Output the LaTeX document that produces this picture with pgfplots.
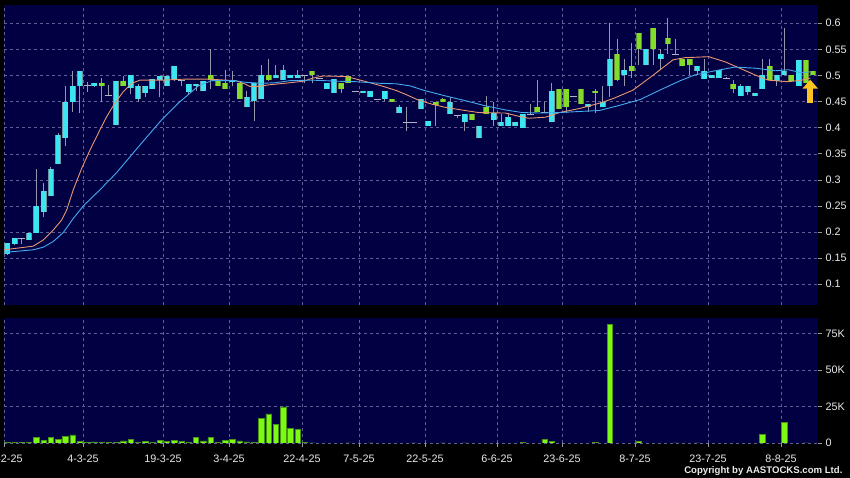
\documentclass[border=0pt]{standalone}
\usepackage{pgfplots}
\pgfplotsset{compat=1.18}
\usepackage{pgfplotstable}
\usepackage{fontspec}
\setmainfont{Liberation Sans}
\usetikzlibrary{arrows.meta}

\definecolor{bgnavy}{RGB}{0,0,66}
\definecolor{gridcol}{RGB}{95,95,150}
\definecolor{upcyan}{RGB}{60,230,240}
\definecolor{upedge}{RGB}{110,150,160}
\definecolor{dngreen}{RGB}{130,220,40}
\definecolor{dnedge}{RGB}{95,140,60}
\definecolor{wickcol}{RGB}{150,150,170}
\definecolor{dojicol}{RGB}{175,180,195}
\definecolor{maorange}{RGB}{235,150,110}
\definecolor{mablue}{RGB}{70,170,240}
\definecolor{volgreen}{RGB}{125,250,20}
\definecolor{voledge}{RGB}{70,150,20}
\definecolor{labcol}{RGB}{235,235,235}
\definecolor{arrowcol}{RGB}{255,195,30}

% daily candles: low, body low, body high, high; t: 0 cyan, 1 green, 2 doji
\pgfplotstableread{
i lo bl bh hi t
0 0.157 0.158 0.179 0.180 0
1 0.175 0.178 0.188 0.188 0
2 0.178 0.186 0.188 0.188 2
3 0.185 0.185 0.199 0.199 0
4 0.198 0.198 0.249 0.320 0
5 0.228 0.239 0.279 0.294 0
6 0.269 0.269 0.320 0.325 0
7 0.330 0.330 0.385 0.389 0
8 0.364 0.380 0.450 0.479 0
9 0.430 0.450 0.479 0.509 0
10 0.429 0.480 0.509 0.509 0
11 0.469 0.480 0.482 0.487 2
12 0.478 0.480 0.485 0.485 0
13 0.450 0.480 0.485 0.495 1
14 0.461 0.460 0.462 0.482 2
15 0.405 0.405 0.490 0.490 0
16 0.480 0.480 0.490 0.499 1
17 0.465 0.476 0.500 0.500 0
18 0.450 0.454 0.480 0.483 0
19 0.459 0.466 0.479 0.479 0
20 0.475 0.475 0.494 0.494 0
21 0.459 0.491 0.499 0.499 0
22 0.480 0.480 0.499 0.499 0
23 0.490 0.491 0.519 0.519 0
24 0.480 0.489 0.491 0.491 2
25 0.465 0.469 0.484 0.484 0
26 0.470 0.479 0.484 0.484 0
27 0.470 0.470 0.490 0.490 0
28 0.475 0.491 0.500 0.550 1
29 0.480 0.480 0.489 0.489 1
30 0.475 0.475 0.485 0.510 1
31 0.480 0.488 0.491 0.509 0
32 0.454 0.454 0.485 0.485 1
33 0.439 0.439 0.459 0.470 0
34 0.413 0.452 0.485 0.485 0
35 0.454 0.454 0.500 0.520 0
36 0.490 0.491 0.500 0.531 1
37 0.495 0.495 0.500 0.520 0
38 0.491 0.491 0.511 0.520 0
39 0.495 0.495 0.500 0.500 0
40 0.495 0.495 0.500 0.511 0
41 0.485 0.499 0.501 0.501 2
42 0.485 0.500 0.509 0.509 1
43 0.494 0.494 0.496 0.496 2
44 0.475 0.475 0.485 0.485 0
45 0.466 0.466 0.493 0.493 0
46 0.466 0.475 0.485 0.485 1
47 0.485 0.485 0.499 0.499 1
48 0.469 0.469 0.471 0.471 2
49 0.466 0.466 0.470 0.470 0
50 0.459 0.459 0.470 0.470 0
51 0.453 0.453 0.455 0.455 2
52 0.452 0.454 0.470 0.470 0
53 0.450 0.450 0.455 0.455 1
54 0.429 0.429 0.440 0.443 0
55 0.394 0.409 0.411 0.440 2
56 0.409 0.409 0.411 0.411 2
57 0.435 0.435 0.454 0.454 0
58 0.404 0.404 0.413 0.413 0
59 0.404 0.443 0.450 0.450 1
60 0.450 0.450 0.454 0.457 1
61 0.426 0.426 0.450 0.459 0
62 0.419 0.423 0.425 0.425 2
63 0.394 0.410 0.426 0.426 0
64 0.415 0.415 0.426 0.426 1
65 0.380 0.380 0.404 0.404 0
66 0.426 0.426 0.439 0.461 1
67 0.404 0.415 0.429 0.450 0
68 0.404 0.404 0.410 0.426 0
69 0.404 0.404 0.420 0.428 0
70 0.404 0.404 0.410 0.410 0
71 0.400 0.400 0.426 0.426 0
72 0.426 0.425 0.427 0.445 2
73 0.430 0.430 0.439 0.491 1
74 0.429 0.428 0.430 0.450 2
75 0.410 0.410 0.470 0.485 0
76 0.435 0.435 0.475 0.475 1
77 0.429 0.439 0.475 0.475 1
78 0.459 0.458 0.460 0.460 2
79 0.445 0.445 0.475 0.475 1
80 0.430 0.439 0.445 0.445 0
81 0.429 0.467 0.471 0.475 1
82 0.439 0.439 0.450 0.480 0
83 0.459 0.480 0.531 0.600 0
84 0.490 0.491 0.541 0.569 1
85 0.480 0.501 0.511 0.531 0
86 0.495 0.509 0.519 0.562 1
87 0.520 0.550 0.581 0.581 1
88 0.520 0.520 0.550 0.550 0
89 0.520 0.550 0.590 0.590 1
90 0.511 0.531 0.541 0.550 0
91 0.541 0.560 0.571 0.610 1
92 0.540 0.540 0.542 0.569 2
93 0.519 0.519 0.531 0.531 1
94 0.501 0.520 0.531 0.531 1
95 0.501 0.509 0.519 0.519 0
96 0.493 0.493 0.509 0.531 0
97 0.495 0.495 0.500 0.500 0
98 0.495 0.495 0.511 0.511 0
99 0.494 0.494 0.496 0.498 2
100 0.466 0.474 0.484 0.491 1
101 0.461 0.461 0.479 0.484 0
102 0.463 0.469 0.479 0.479 0
103 0.461 0.461 0.466 0.466 0
104 0.475 0.475 0.500 0.531 0
105 0.491 0.491 0.519 0.531 1
106 0.479 0.490 0.500 0.500 0
107 0.500 0.500 0.509 0.590 0
108 0.490 0.490 0.500 0.500 1
109 0.480 0.480 0.530 0.530 0
110 0.485 0.485 0.530 0.530 1
111 0.500 0.500 0.509 0.509 1
}\candles

% volume in thousands
\pgfplotstableread{
i v
0 0.3
1 0.2
2 0.2
3 0.3
4 4.0
5 1.6
6 4.0
7 2.3
8 4.3
9 5.5
10 1.1
11 0.5
12 0.7
13 0.3
14 0.3
15 0.3
16 1.4
17 2.3
18 0.5
19 1.1
20 0.4
21 1.8
22 1.1
23 1.6
24 0.9
25 0.2
26 3.6
27 1.4
28 3.6
29 0.2
30 1.6
31 2.3
32 1.4
33 0.7
34 0.2
35 16.7
36 19.9
37 12.8
38 24.7
39 10.0
40 9.2
41 0.2
42 0.1
47 0.1
50 0.1
56 0.1
60 0.1
63 0.1
71 0.5
74 2.3
75 0.9
81 0.3
83 81.2
87 0.9
92 0.1
95 0.1
104 5.7
107 14.2
110 0.1
}\vol

% short moving average
\pgfplotstableread{
i p
-0.45 0.166
3.58 0.173
4.97 0.185
6.34 0.204
7.49 0.223
8.18 0.242
9.09 0.281
10.25 0.322
11.39 0.357
12.77 0.396
13.69 0.421
14.83 0.447
15.98 0.469
17.13 0.485
18.28 0.491
21.3 0.491
24.5 0.493
27.7 0.493
31.4 0.490
32.7 0.484
33.4 0.479
34.6 0.479
36.0 0.482
38.9 0.486
40.8 0.489
42.1 0.495
43.5 0.499
46.7 0.498
48.1 0.493
50.0 0.486
51.8 0.479
53.6 0.471
55.0 0.463
56.6 0.453
58.5 0.445
60.3 0.439
63.0 0.433
64.9 0.429
68.6 0.428
70.4 0.422
71.8 0.418
74.1 0.420
76.1 0.429
78.9 0.437
81.6 0.447
83.5 0.456
86.2 0.472
89.0 0.501
91.7 0.530
93.3 0.534
96.6 0.536
98.9 0.526
101.2 0.512
103.0 0.501
104.8 0.491
107.6 0.488
109.4 0.491
110.6 0.495
}\mashort

% long moving average
\pgfplotstableread{
i p
-0.45 0.161
3.58 0.166
4.96 0.171
6.34 0.182
7.71 0.199
9.09 0.226
10.47 0.250
12.77 0.281
15.07 0.314
17.37 0.352
18.97 0.378
21.27 0.415
23.55 0.447
25.17 0.466
26.3 0.480
28.15 0.490
31.36 0.490
32.7 0.487
35.0 0.485
36.9 0.486
38.9 0.490
42.1 0.491
45.4 0.489
48.1 0.488
51.3 0.485
53.6 0.484
55.5 0.480
57.5 0.471
60.3 0.461
63.0 0.452
65.8 0.442
68.6 0.434
70.9 0.429
73.4 0.428
76.1 0.429
81.6 0.433
84.4 0.443
87.2 0.454
89.9 0.472
92.7 0.490
94.7 0.501
97.5 0.509
100.2 0.516
103.0 0.514
105.8 0.509
107.6 0.511
109.4 0.505
110.6 0.507
}\malong

\pgfplotsset{
  panel/.style={
    scale only axis, width=814pt,
    xmin=-0.45, xmax=111.67,
    axis background/.style={fill=bgnavy},
    axis line style={draw=none},
    grid=major,
    major grid style={gridcol, dash pattern=on 3pt off 3pt, line width=0.5pt},
    xtick={-0.45,10.43,21.45,30.54,40.59,48.44,57.53,67.45,76.4,86.46,96.52,106.57},
    tick align=outside,
    major tick length=4pt,
    tick style={wickcol, line width=0.6pt},
    ytick pos=right, yticklabel pos=right,
    ticklabel style={font=\fontsize{10.8}{13}\selectfont, text=labcol},
  },
  wicks/.style={draw=none, mark=none, forget plot,
    error bars/y dir=plus, error bars/y explicit, error bars/error mark=none,
    error bars/error bar style={draw=wickcol, line width=0.9pt}},
  bodies/.style 2 args={draw=none, mark=none, forget plot,
    error bars/y dir=plus, error bars/y explicit, error bars/error mark=none,
    error bars/error bar style={draw=#1, line width=#2}},
}

\begin{document}
\begin{tikzpicture}
\fill[black] (0,0) rectangle (850pt,478pt);

% price panel
\begin{axis}[panel, at={(4pt,173pt)}, anchor=south west, height=300pt,
  ymin=0.0603, ymax=0.635,
  ytick={0.1,0.15,0.2,0.25,0.3,0.35,0.4,0.45,0.5,0.55,0.6},
  yticklabels={0.1,0.15,0.2,0.25,0.3,0.35,0.4,0.45,0.5,0.55,0.6},
  xticklabels={}, xtick style={draw=none}]
\addplot[wicks] table[x=i, y=lo, y error plus expr=\thisrow{hi}-\thisrow{lo}] {\candles};
\addplot[restrict expr to domain={\thisrow{t}}{-0.5:0.5}, bodies={upedge}{6pt}]
  table[x=i, y=bl, y error plus expr=\thisrow{bh}-\thisrow{bl}] {\candles};
\addplot[restrict expr to domain={\thisrow{t}}{-0.5:0.5}, bodies={upcyan}{4.6pt}]
  table[x=i, y=bl, y error plus expr=\thisrow{bh}-\thisrow{bl}] {\candles};
\addplot[restrict expr to domain={\thisrow{t}}{0.5:1.5}, bodies={dnedge}{6pt}]
  table[x=i, y=bl, y error plus expr=\thisrow{bh}-\thisrow{bl}] {\candles};
\addplot[restrict expr to domain={\thisrow{t}}{0.5:1.5}, bodies={dngreen}{4.6pt}]
  table[x=i, y=bl, y error plus expr=\thisrow{bh}-\thisrow{bl}] {\candles};
\addplot[restrict expr to domain={\thisrow{t}}{1.5:2.5}, bodies={dojicol}{7pt}]
  table[x=i, y=bl, y error plus expr=\thisrow{bh}-\thisrow{bl}] {\candles};
\addplot[maorange, line width=0.9pt, forget plot] table[x=i, y=p] {\mashort};
\addplot[mablue, line width=0.9pt, forget plot] table[x=i, y=p] {\malong};
\draw[arrowcol, line width=6pt, -{Triangle[width=15pt, length=9pt]}]
  (axis cs:110.6,0.447) -- (axis cs:110.6,0.492);
\end{axis}

% volume panel
\begin{axis}[panel, at={(4pt,35pt)}, anchor=south west, height=124.8pt,
  ymin=0, ymax=85.6,
  ytick={0,25,50,75}, yticklabels={0,25K,50K,75K},
  xtick pos=bottom,
  xticklabels={18-2-25,4-3-25,19-3-25,3-4-25,22-4-25,7-5-25,22-5-25,6-6-25,23-6-25,8-7-25,23-7-25,8-8-25},
  xticklabel style={yshift=-4pt}]
\addplot[ybar, bar width=5.4pt, fill=volgreen, draw=voledge, line width=0.5pt] table[x=i, y=v] {\vol};
\end{axis}

\node[anchor=east, text=labcol, font=\fontsize{9.6}{11}\selectfont\bfseries] at (846pt,7pt) {Copyright by AASTOCKS.com Ltd.};

\pgfresetboundingbox
\useasboundingbox (0,0) rectangle (850pt,478pt);
\end{tikzpicture}
\end{document}
